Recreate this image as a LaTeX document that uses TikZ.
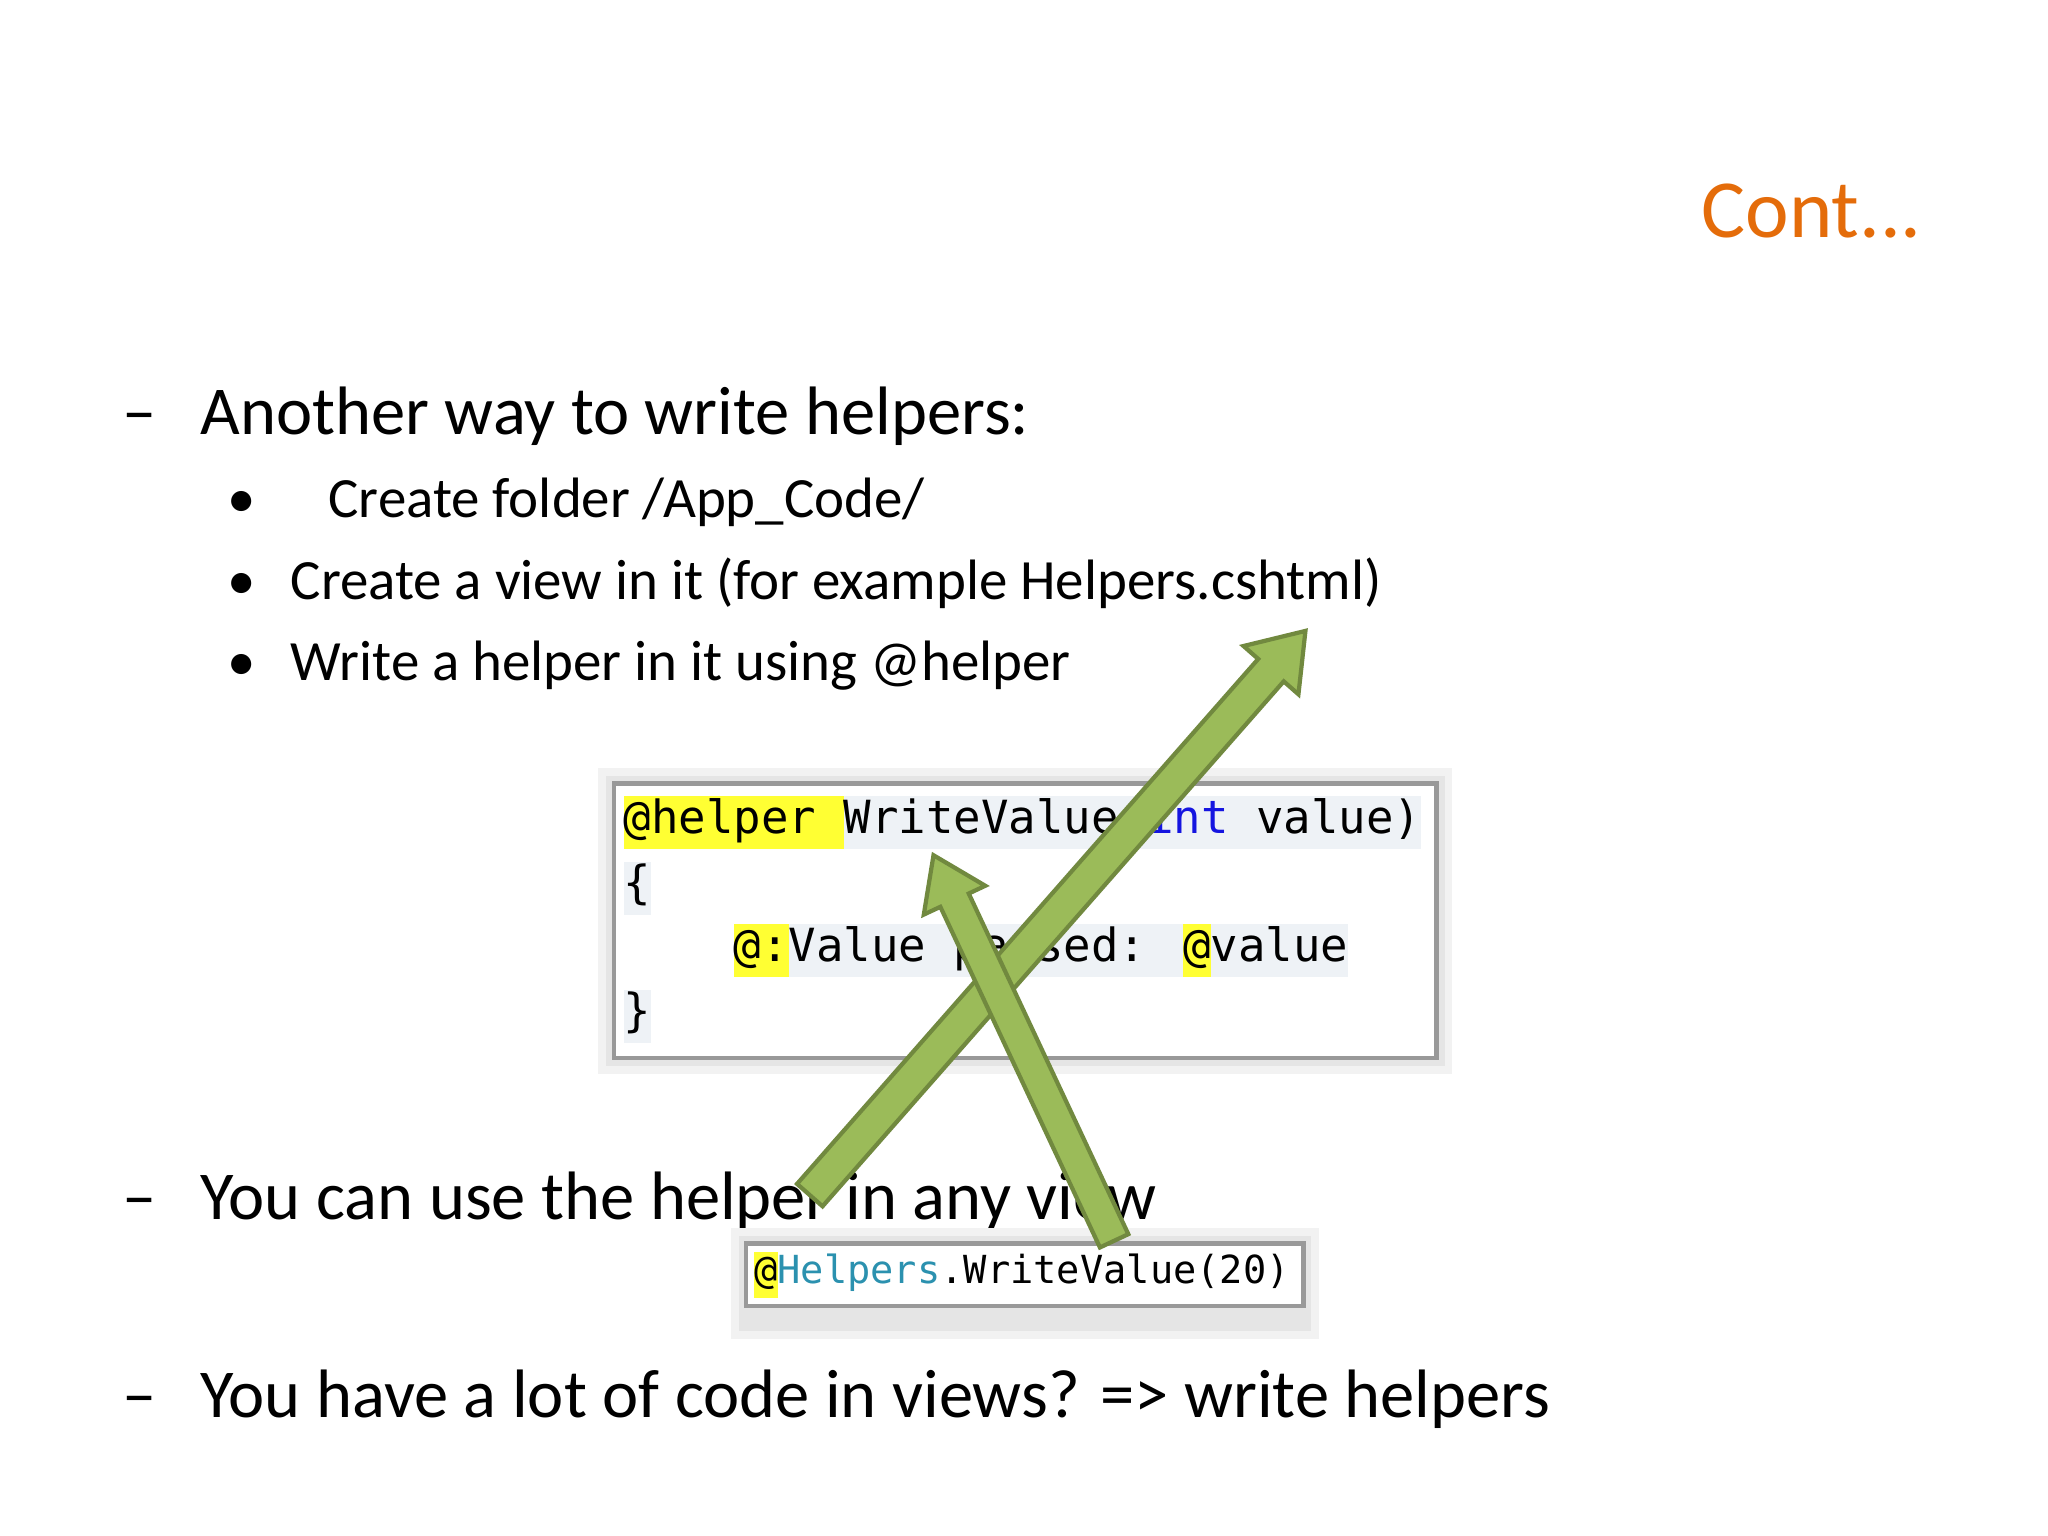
\documentclass[tikz,border=0pt]{standalone}
\usepackage{fontspec}
\setmainfont{Carlito}
\newfontfamily\codefont{DejaVu Sans Mono}
\definecolor{orng}{HTML}{E46C0A}
\definecolor{agreen}{HTML}{9BBB59}
\definecolor{agreenb}{HTML}{71893F}
\definecolor{codebg}{HTML}{EEF2F6}
\definecolor{hlyel}{HTML}{FFFF33}
\definecolor{kwblue}{HTML}{1515E0}
\definecolor{teal}{HTML}{2B91AF}
\newcommand\hly[1]{{\setlength\fboxsep{0pt}\colorbox{hlyel}{\strut #1}}}
\newcommand\hlb[1]{{\setlength\fboxsep{0pt}\colorbox{codebg}{\strut #1}}}
\begin{document}
\begin{tikzpicture}[x=0.01306cm,y=-0.01306cm,
  big/.style={anchor=base west,font=\fontsize{19.5}{24}\selectfont,inner sep=0},
  sub/.style={anchor=base west,font=\fontsize{16.2}{19}\selectfont,inner sep=0},
  code/.style={anchor=west,font=\codefont\fontsize{13}{15}\selectfont,inner sep=0},
  arr/.style={fill=agreen,draw=agreenb,line width=1.2pt,line join=miter}]
\useasboundingbox (0,0) rectangle (1568,1176);
\node[anchor=base east,font=\fontsize{23.5}{28}\selectfont,text=orng,inner sep=0] (title) at (1472,182) {Cont...};
\node[big] (d1) at (93,333) {--};
\node[big] (t1) at (153,333) {Another way to write helpers:};
\node[sub] (b1) at (174,396) {\textbullet};
\node[sub] (s1) at (251,396) {Create folder /App\_Code/};
\node[sub] (b2) at (174,459) {\textbullet};
\node[sub] (s2) at (222,459) {Create a view in it (for example Helpers.cshtml)};
\node[sub] (b3) at (174,521) {\textbullet};
\node[sub] (s3) at (222,521) {Write a helper in it using @helper};
% code box
\fill[black!5] (458,588) rectangle (1112,822);
\fill[black!10] (464,594) rectangle (1106,816);
\draw[black!40,line width=1.3pt,fill=white] (470,600) rectangle (1100,810);
\node[code] (c1) at (477,630) {\hly{@helper }\hlb{WriteValue(\textcolor{kwblue}{int} value)}};
\node[code] (c2) at (477,680) {\hlb{\{}};
\node[code] (c3) at (477,728) {\phantom{@@@@}\hly{@:}\hlb{Value passed: }\hly{@}\hlb{value}};
\node[code] (c4) at (477,778) {\hlb{\}}};
\node[big] (d2) at (93,934) {--};
\node[big] (t2) at (153,934) {You can use the helper in any view};
\fill[black!5] (560,940) rectangle (1010,1025);
\fill[black!10] (566,946) rectangle (1004,1019);
\draw[black!40,line width=1.3pt,fill=white] (571,952) rectangle (998,1000);
\node[code,font=\codefont\fontsize{11}{13}\selectfont] (c5) at (577,976) {\hly{@}\textcolor{teal}{Helpers}.WriteValue(20)};
\node[big] (d3) at (93,1085) {--};
\node[big] (t3) at (153,1085) {You have a lot of code in views? => write helpers};
% arrows
\begin{scope}[shift={(620,915)},rotate=48.7]
\draw[arr] (0,-13) -- (535,-13) -- (535,-28) -- (575,0) -- (535,28) -- (535,13) -- (0,13) -- cycle;
\end{scope}
\begin{scope}[shift={(853,950)},rotate=115.1]
\draw[arr] (0,-12) -- (288,-12) -- (288,-26) -- (326,0) -- (288,26) -- (288,12) -- (0,12) -- cycle;
\end{scope}
\end{tikzpicture}
\end{document}
